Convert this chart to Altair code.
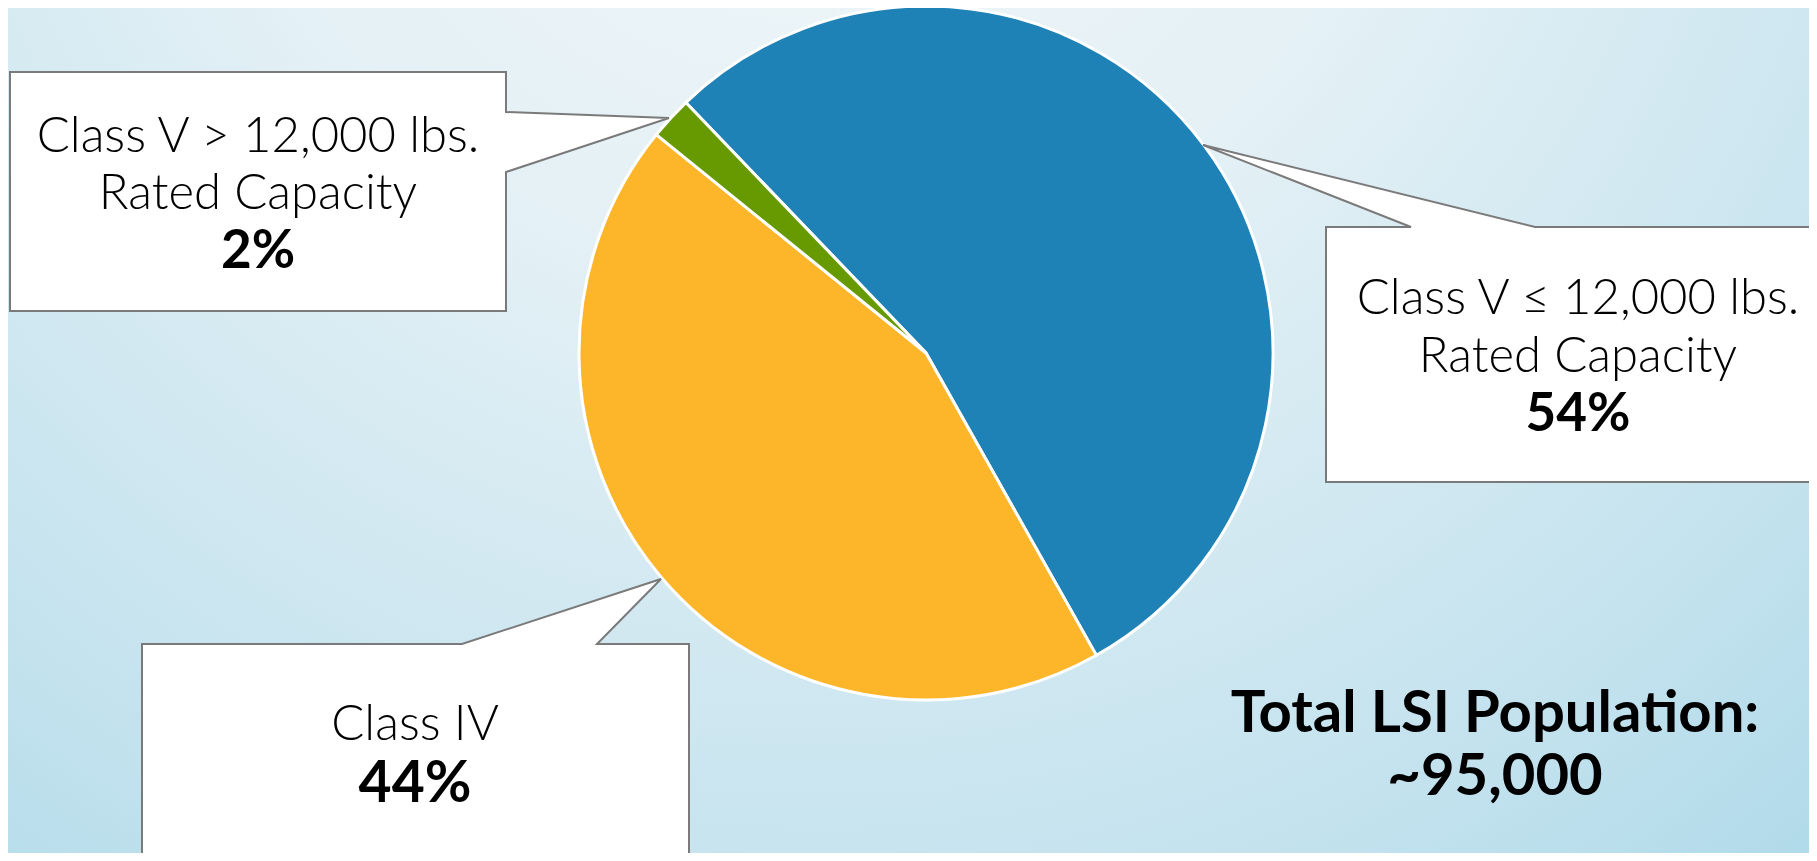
import math
import altair as alt
import pandas as pd

# ---------------- data ----------------
categories = [
    "Class V ≤ 12,000 lbs. Rated Capacity",
    "Class IV",
    "Class V > 12,000 lbs. Rated Capacity",
]
shares = [54, 44, 2]
slice_colors = ["#1F82B7", "#FDB62A", "#669A00"]
label_lines = [
    ["Class V ≤ 12,000 lbs.", "Rated Capacity"],
    ["Class IV"],
    ["Class V > 12,000 lbs.", "Rated Capacity"],
]
total_lines = ["Total LSI Population:", "~95,000"]

# ---------------- layout (reference pixel coordinates) ----------------
W, H = 1801, 845
OFF = 8  # page margin
PIE_CX, PIE_CY, PIE_R = 926, 353, 347
START_DEG = -43.8

# callout outlines (box + pointer), reference pixels
callouts = [
    [(1326, 227), (1411, 227), (1203, 145), (1535, 227), (1830, 227), (1830, 482), (1326, 482)],
    [(142, 644), (462, 644), (661, 579), (597, 644), (689, 644), (689, 880), (142, 880)],
    [(10, 72), (506, 72), (506, 112), (669, 118), (506, 172), (506, 311), (10, 311)],
]
# text anchor (center x) and baselines for title lines + percentage line
label_x = [1578, 415, 258]
label_baselines = [[314, 372, 431], [740, 802], [152, 209, 268]]
pct_sizes = [53, 57, 53]
LABEL_SIZE = 49
total_x = 1495
total_baselines = [732, 795]
TOTAL_SIZE = 58

FONT = "Lato"

# ---------------- background ----------------
bg = alt.Chart(pd.DataFrame({"a": [0]})).mark_rect(
    fill=alt.RadialGradient(
        gradient="radial",
        x1=0.45, y1=0.08, r1=0.0,
        x2=0.45, y2=0.08, r2=1.0,
        stops=[
            alt.GradientStop(offset=0.0, color="#F4F8F9"),
            alt.GradientStop(offset=0.35, color="#E3F0F5"),
            alt.GradientStop(offset=0.7, color="#C3E2EE"),
            alt.GradientStop(offset=1.0, color="#A0D3E6"),
        ],
    )
).encode(x=alt.value(0), x2=alt.value(W), y=alt.value(0), y2=alt.value(H))

# ---------------- pie ----------------
pie_df = pd.DataFrame({"category": categories, "share": shares, "order": list(range(len(categories)))})
start = math.radians(START_DEG)
pie = alt.Chart(pie_df).mark_arc(
    radius=PIE_R, stroke="white", strokeWidth=3
).encode(
    theta=alt.Theta("share:Q", stack=True,
                    scale=alt.Scale(domain=[0, sum(shares)], range=[start, start + 2 * math.pi])),
    color=alt.Color("category:N", scale=alt.Scale(domain=categories, range=slice_colors), legend=None),
    order=alt.Order("order:Q"),
    x=alt.value(PIE_CX - OFF),
    y=alt.value(PIE_CY - OFF),
)

# ---------------- callouts ----------------
features = []
for poly in callouts:
    ring = [[x - OFF, y - OFF] for x, y in poly]
    ring.append(ring[0])
    features.append({"type": "Feature", "properties": {},
                     "geometry": {"type": "Polygon", "coordinates": [ring]}})
geo = alt.Data(values={"type": "FeatureCollection", "features": features},
               format=alt.DataFormat(property="features", type="json"))
boxes = alt.Chart(geo).mark_geoshape(
    fill="white", stroke="#7A7A7A", strokeWidth=2, strokeJoin="miter"
).project(type="identity", scale=1, translate=[0, 0])


def text_layer(txt, x, y, size, weight):
    return alt.Chart(pd.DataFrame({"t": [txt]})).mark_text(
        font=FONT, fontSize=size, fontWeight=weight, align="center",
        baseline="alphabetic", color="black"
    ).encode(text="t:N", x=alt.value(x - OFF), y=alt.value(y - OFF))


texts = []
for lines, share, x, ys, psize in zip(label_lines, shares, label_x, label_baselines, pct_sizes):
    for line, y in zip(lines, ys[:-1]):
        texts.append(text_layer(line, x, y, LABEL_SIZE, 300))
    texts.append(text_layer(f"{share}%", x, ys[-1], psize, "bold"))
for line, y in zip(total_lines, total_baselines):
    texts.append(text_layer(line, total_x, y, TOTAL_SIZE, "bold"))

chart = alt.layer(bg, pie, boxes, *texts).properties(
    width=W, height=H, padding=0,
    autosize=alt.AutoSizeParams(type="none"),
).configure_view(stroke=None)

chart.save("out.html", embed_options={"renderer": "svg", "actions": False})
